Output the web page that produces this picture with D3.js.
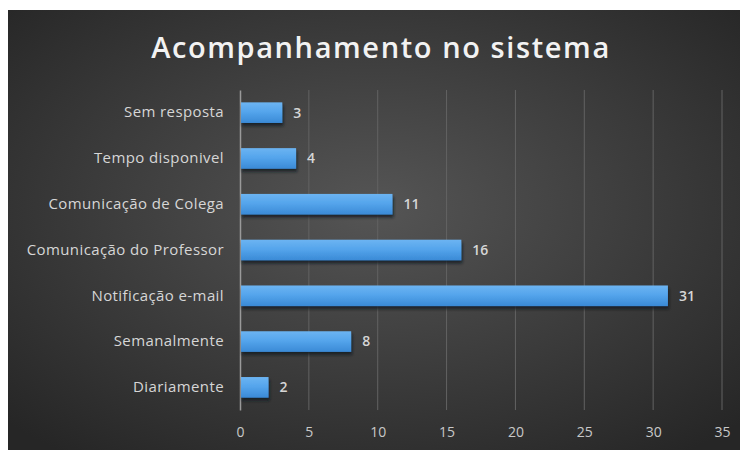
<!DOCTYPE html>
<html>
<head>
<meta charset="utf-8">
<script src="https://cdn.jsdelivr.net/npm/d3@7"></script>
<style>
  html, body { margin: 0; padding: 0; background: #fff; }
  svg { display: block; }
</style>
</head>
<body>
<div id="chart"></div>
<script>
// dados do gráfico
const categories = ["Sem resposta", "Tempo disponivel", "Comunicação de Colega", "Comunicação do Professor", "Notificação e-mail", "Semanalmente", "Diariamente"];
const values = [3, 4, 11, 16, 31, 8, 2];
const ticks = [0, 5, 10, 15, 20, 25, 30, 35];
const title = "Acompanhamento no sistema";

const width = 742;
const height = 450;
const margin = { top: 90, right: 20, bottom: 40, left: 240 };

const svg = d3.select("#chart")
  .append("svg")
  .attr("width", width)
  .attr("height", height)
  .style("font-family", "'Open Sans', sans-serif");

const defs = svg.append("defs");

const bg = defs.append("radialGradient")
  .attr("id", "bg")
  .attr("cx", "50%").attr("cy", "45%").attr("r", "70%");
bg.append("stop").attr("offset", "0%").attr("stop-color", "#555555");
bg.append("stop").attr("offset", "100%").attr("stop-color", "#262626");

const barGrad = defs.append("linearGradient")
  .attr("id", "bar")
  .attr("x1", 0).attr("y1", 0).attr("x2", 0).attr("y2", 1);
barGrad.append("stop").attr("offset", "0%").attr("stop-color", "#6cb4f2");
barGrad.append("stop").attr("offset", "45%").attr("stop-color", "#55a5ec");
barGrad.append("stop").attr("offset", "100%").attr("stop-color", "#3a8ad6");

const shadow = defs.append("filter")
  .attr("id", "shadow")
  .attr("x", "-10%").attr("y", "-30%").attr("width", "130%").attr("height", "190%");
shadow.append("feDropShadow")
  .attr("dx", 1).attr("dy", 3).attr("stdDeviation", 1.5)
  .attr("flood-color", "#0a1420").attr("flood-opacity", 0.8);

// fundo
svg.append("rect")
  .attr("x", 8).attr("y", 10)
  .attr("width", 732).attr("height", 440)
  .attr("fill", "url(#bg)");

svg.append("text")
  .attr("x", 381)
  .attr("y", 58)
  .attr("text-anchor", "middle")
  .attr("fill", "#f2f2f2")
  .attr("font-size", 29)
  .attr("font-weight", 600)
  .attr("letter-spacing", 1.6)
  .text(title);

const x = d3.scaleLinear()
  .domain([0, 35])
  .range([margin.left, 722]);

const y = d3.scaleBand()
  .domain(categories)
  .range([margin.top, height - margin.bottom])
  .paddingInner(0.55)
  .paddingOuter(0.27);

// grade vertical
svg.append("g")
  .selectAll("line")
  .data(ticks.slice(1))
  .join("line")
  .attr("x1", (d) => x(d))
  .attr("x2", (d) => x(d))
  .attr("y1", margin.top)
  .attr("y2", height - margin.bottom)
  .attr("stroke", "#636363")
  .attr("stroke-width", 1);

// eixo x
const xAxis = svg.append("g")
  .attr("transform", `translate(0,${height - margin.bottom})`)
  .call(d3.axisBottom(x).tickValues(ticks).tickSize(0).tickPadding(17));
xAxis.select(".domain").remove();
xAxis.selectAll("text")
  .attr("fill", "#c8c8c8")
  .attr("font-size", 14)
  .attr("font-family", "'Open Sans', sans-serif");

// eixo y
const yAxis = svg.append("g")
  .attr("transform", `translate(${margin.left},0)`)
  .call(d3.axisLeft(y).tickSize(0).tickPadding(16));
yAxis.select(".domain").attr("stroke", "#9a9a9a").attr("stroke-width", 1.5);
yAxis.selectAll("text")
  .attr("fill", "#d6d6d6")
  .attr("font-size", 15)
  .attr("letter-spacing", 0.4)
  .attr("font-family", "'Open Sans', sans-serif");

// barras
svg.append("g")
  .selectAll("rect")
  .data(values)
  .join("rect")
  .attr("x", x(0) + 1)
  .attr("y", (d, i) => y(categories[i]))
  .attr("width", (d) => x(d) - x(0))
  .attr("height", y.bandwidth())
  .attr("fill", "url(#bar)")
  .attr("filter", "url(#shadow)");

// rótulos de valores
svg.append("g")
  .selectAll("text")
  .data(values)
  .join("text")
  .attr("x", (d) => x(d) + 12)
  .attr("y", (d, i) => y(categories[i]) + y.bandwidth() / 2)
  .attr("dy", "0.35em")
  .attr("fill", "#d6d6d6")
  .attr("font-size", 14)
  .attr("font-weight", 600)
  .text((d) => d);
</script>
</body>
</html>
